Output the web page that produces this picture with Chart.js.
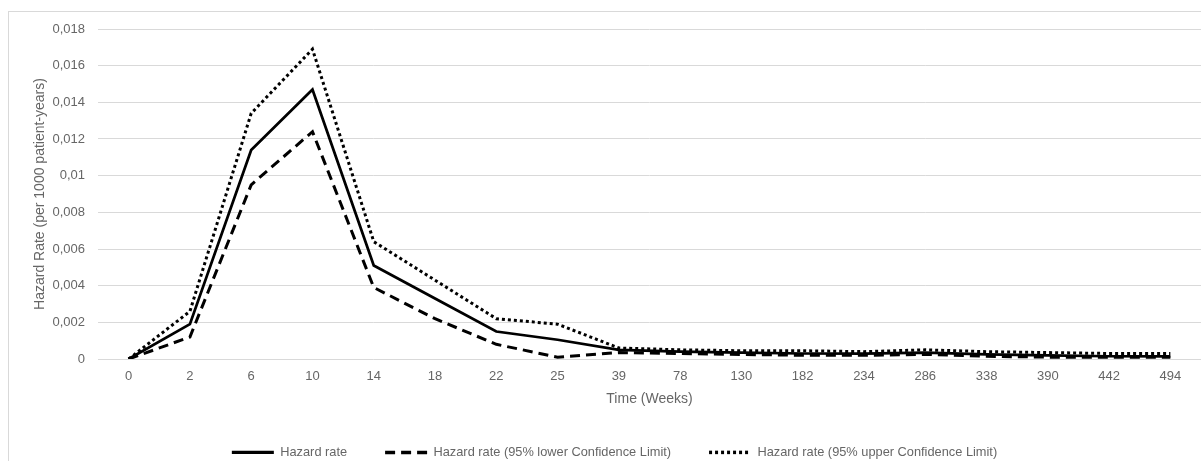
<!DOCTYPE html>
<html>
<head>
<meta charset="utf-8">
<script src="https://cdn.jsdelivr.net/npm/chart.js@4.4.0/dist/chart.umd.min.js"></script>
<style>
  body { margin: 0; overflow: hidden; background: #fff; }
  #wrap { position: relative; width: 1201px; height: 461px; }
  #frame { position: absolute; left: 8px; top: 11px; width: 1400px; height: 600px; border: 1px solid #d9d9d9; }
  canvas { position: absolute; left: 0; top: 0; }
</style>
</head>
<body>
<div id="wrap">
  <div id="frame"></div>
  <canvas id="hazardChart" width="1201" height="461"></canvas>
</div>
<script>
const weeks = ["0", "2", "6", "10", "14", "18", "22", "25", "39", "78", "130", "182", "234", "286", "338", "390", "442", "494"];

const hazardRate = [0, 0.0019, 0.0114, 0.0147, 0.0051, 0.0033, 0.0015, 0.00105, 0.0005, 0.0004, 0.00035, 0.0003, 0.0003, 0.00035, 0.00025, 0.0002, 0.00015, 0.00015];
const lowerLimit = [0, 0.0012, 0.0095, 0.0124, 0.0039, 0.0022, 0.0008, 0.0001, 0.00035, 0.0003, 0.00025, 0.0002, 0.0002, 0.00025, 0.00015, 0.0001, 0.0001, 0.0001];
const upperLimit = [0, 0.0026, 0.0134, 0.0169, 0.0064, 0.0043, 0.0022, 0.0019, 0.0006, 0.0005, 0.00045, 0.00045, 0.0004, 0.0005, 0.0004, 0.00035, 0.0003, 0.0003];

const seriesNames = [
    "Hazard rate",
    "Hazard rate (95% lower Confidence Limit)",
    "Hazard rate (95% upper Confidence Limit)"
];

const textColor = "#666666";
const gridColor = "#d9d9d9";
const fontFamily = "'Liberation Sans', Arial, sans-serif";

function lineSet(label, data, width, dash) {
    return {
        label: label,
        data: data,
        borderColor: "#000",
        backgroundColor: "#000",
        borderWidth: width,
        borderDash: dash,
        pointRadius: 0,
        pointHoverRadius: 0,
        pointStyle: "line",
        tension: 0,
        fill: false
    };
}

// legend samples should carry the dash pattern of each line
function legendLabels(chart) {
    const items = Chart.defaults.plugins.legend.labels.generateLabels(chart);
    items.forEach(function(item) {
        const ds = chart.data.datasets[item.datasetIndex];
        item.lineDash = ds.borderDash;
        item.lineWidth = ds.borderWidth + 0.5;
        item.strokeStyle = "#000";
    });
    return items;
}

const ctx = document.getElementById("hazardChart").getContext("2d");

const chart = new Chart(ctx, {
    type: "line",
    data: {
        labels: weeks,
        datasets: [
            lineSet(seriesNames[0], hazardRate, 2.75, []),
            lineSet(seriesNames[1], lowerLimit, 3, [10, 6]),
            lineSet(seriesNames[2], upperLimit, 3, [3, 3])
        ]
    },
    options: {
        responsive: false,
        animation: false,
        layout: {
            padding: { left: 28, right: 0, top: 29, bottom: 0 }
        },
        plugins: {
            tooltip: { enabled: false },
            legend: {
                position: "bottom",
                maxHeight: 53,
                labels: {
                    usePointStyle: true,
                    pointStyle: "line",
                    pointStyleWidth: 42,
                    boxHeight: 12.8,
                    padding: 38,
                    color: textColor,
                    font: { family: fontFamily, size: 12.8 },
                    generateLabels: legendLabels
                }
            }
        },
        scales: {
            x: {
                offset: true,
                grid: { display: false, drawTicks: false },
                border: { display: false },
                ticks: {
                    color: textColor,
                    padding: 10,
                    maxRotation: 0,
                    autoSkip: false,
                    font: { family: fontFamily, size: 13 }
                },
                title: {
                    display: true,
                    text: "Time (Weeks)",
                    color: textColor,
                    padding: { top: 0, bottom: 0 },
                    font: { family: fontFamily, size: 14 }
                },
                afterFit: function(scale) {
                    scale.height = 49;
                }
            },
            y: {
                min: 0,
                max: 0.018,
                grid: { color: gridColor, lineWidth: 1, drawTicks: false },
                border: { display: false },
                ticks: {
                    stepSize: 0.002,
                    color: textColor,
                    padding: 13,
                    font: { family: fontFamily, size: 13 },
                    callback: function(value) {
                        return parseFloat(value.toFixed(4)).toString().replace(".", ",");
                    }
                },
                title: {
                    display: true,
                    text: "Hazard Rate (per 1000 patient-years)",
                    color: textColor,
                    padding: { top: 4, bottom: 0 },
                    font: { family: fontFamily, size: 14 }
                },
                afterFit: function(scale) {
                    scale.width = 70;
                }
            }
        }
    }
});
</script>
</body>
</html>
